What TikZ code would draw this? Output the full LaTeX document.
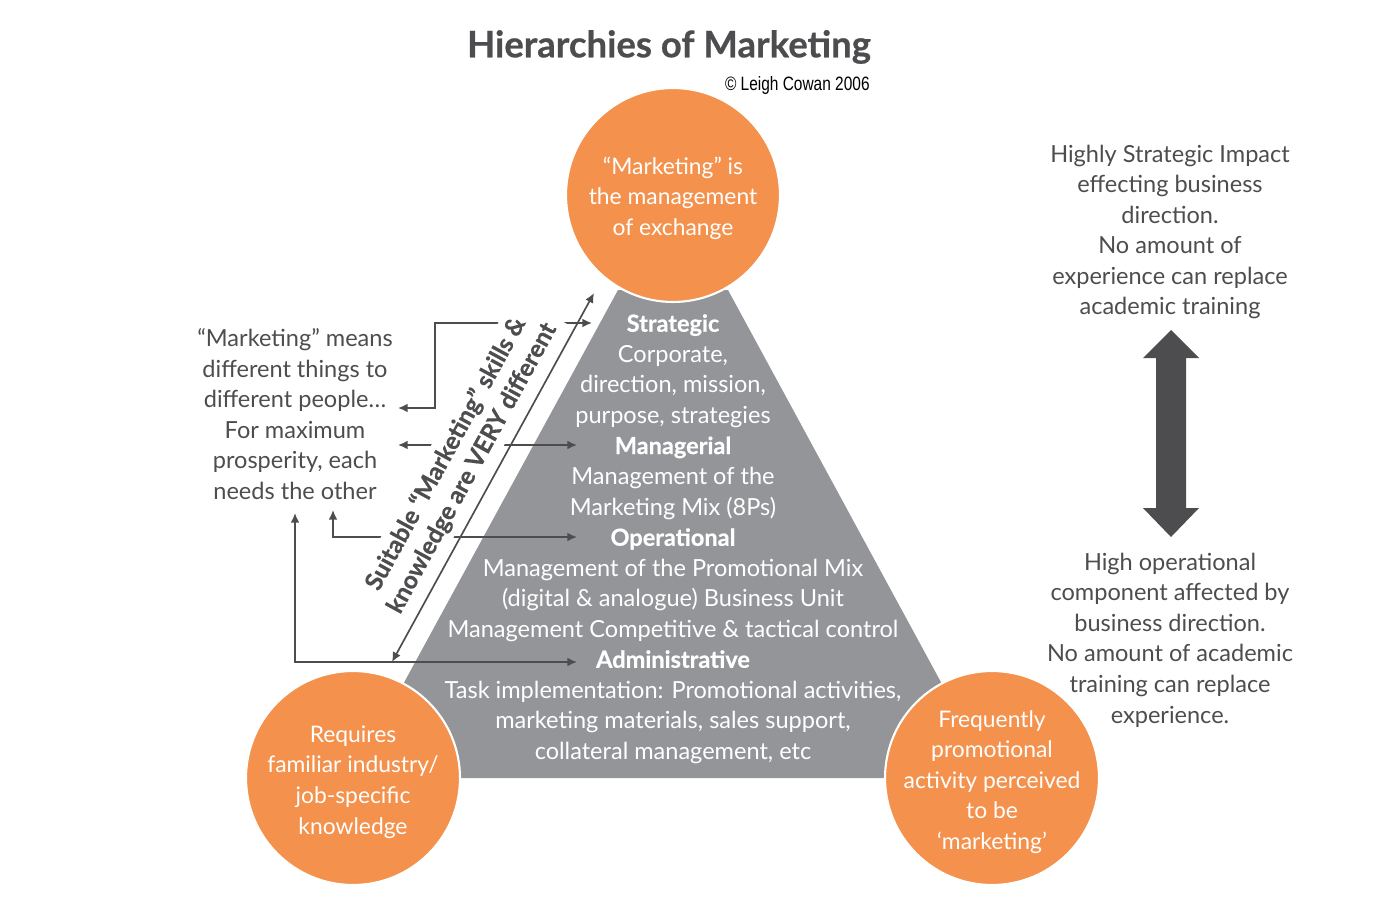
\documentclass[tikz,border=0pt]{standalone}
\usepackage{fontspec}
\setmainfont{Lato}[BoldFeatures={FakeBold=0.6}]
\newfontfamily\narrowfont[FakeStretch=0.8]{Liberation Sans}
\usetikzlibrary{arrows.meta}
\definecolor{mkorange}{HTML}{F4914C}
\definecolor{mkgrey}{HTML}{939598}
\definecolor{mkdark}{HTML}{4D4D4F}

\begin{document}
\begin{tikzpicture}[x=0.02cm, y=-0.02cm,
  bubble/.style={circle, fill=mkorange, draw=white, line width=1.2pt, minimum size=4.28cm, inner sep=0pt},
  intext/.style={text=white, align=center, font=\fontsize{13.4}{17.4}\selectfont},
  outtext/.style={text=mkdark, align=center, font=\fontsize{13.4}{17.4}\selectfont},
  link/.style={draw=mkdark, line width=0.95pt, {Latex[length=5.5pt,width=5pt]}-{Latex[length=5.5pt,width=5pt]}}]
\useasboundingbox (0,0) rectangle (1400,916);

% title
\node[text=mkdark, font=\fontsize{20.8}{24}\selectfont\bfseries] (title) at (669,47) {Hierarchies of Marketing};
\node[anchor=east, inner sep=0pt, font=\narrowfont\fontsize{11}{13}\selectfont] (copy) at (870,86) {© Leigh Cowan 2006};

% pyramid
\fill[mkgrey] (618,290) -- (728,290) -- (993,778) -- (352,778) -- cycle;
\node[intext] (strategic) at (673,371) {\textbf{Strategic}\\Corporate,\\direction, mission,\\purpose, strategies};
\node[intext] (managerial) at (673,478) {\textbf{Managerial}\\Management of the\\Marketing Mix (8Ps)};
\node[intext] (operational) at (673,585) {\textbf{Operational}\\Management of the Promotional Mix\\(digital \& analogue) Business Unit\\Management Competitive \& tactical control};
\node[intext] (administrative) at (673,707) {\textbf{Administrative}\\Task implementation: Promotional activities,\\marketing materials, sales support,\\collateral management, etc};

% circles
\node[bubble] (apex) at (673,195) {};
\node[intext, font=\fontsize{13}{17.4}\selectfont] (apex-txt) at (673,198) {“Marketing” is\\the management\\of exchange};
\node[bubble] (industry) at (353,778) {};
\node[intext, font=\fontsize{13}{17.4}\selectfont] (industry-txt) at (353,782) {Requires\\familiar industry/\\job-specific\\knowledge};
\node[bubble] (promo) at (992,778) {};
\node[intext, font=\fontsize{13}{17.4}\selectfont] (promo-txt) at (992,782) {Frequently\\promotional\\activity perceived\\to be\\‘marketing’};

% left side
\node[outtext] (people) at (295,414) {“Marketing” means\\different things to\\different people…\\For maximum\\prosperity, each\\needs the other};

\coordinate (s1) at (398,408);
\coordinate (s2) at (592,323);
\draw[link] (s1) -| (435,323) -- (s2);
\coordinate (m1) at (398,445);
\coordinate (m2) at (577,445);
\draw[link] (m1) -- (m2);
\coordinate (o1) at (333,510);
\coordinate (o2) at (577,537);
\draw[link] (o1) |- (o2);
\coordinate (a1) at (295,513);
\coordinate (a2) at (577,662);
\draw[link] (a1) |- (a2);

\node[rotate=61.3, fill=white, text=mkdark, align=center, inner xsep=5pt, inner ysep=3pt,
  font=\fontsize{13.9}{17}\selectfont\bfseries] (skills) at (459,461) {Suitable “Marketing” skills \&\\knowledge are VERY different};
\coordinate (d1) at (392,662);
\coordinate (d2) at (594,293);
\draw[link] (d1) -- (d2);

% right side
\node[outtext] (high) at (1170,232) {Highly Strategic Impact\\effecting business\\direction.\\No amount of\\experience can replace\\academic training};
\node[outtext] (low) at (1170,640) {High operational\\component affected by\\business direction.\\No amount of academic\\training can replace\\experience.};
\fill[mkdark] (1171,330) -- (1199,358) -- (1186,358) -- (1186,508) -- (1199,508) -- (1171,537)
  -- (1143,508) -- (1156,508) -- (1156,358) -- (1143,358) -- cycle;
\end{tikzpicture}
\end{document}
